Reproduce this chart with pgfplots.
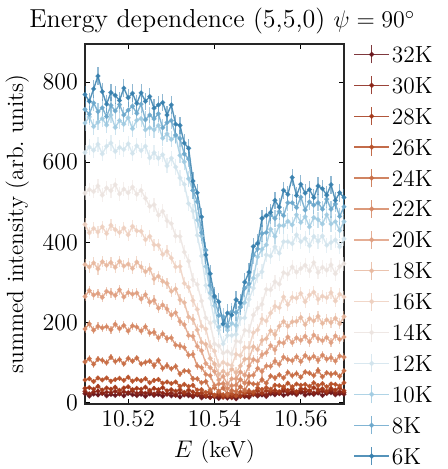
\documentclass[border=0pt]{standalone}
\usepackage{pgfplots}
\pgfplotsset{compat=1.18}
\usepackage{pgfplotstable}
\definecolor{c32}{RGB}{105,22,28}
\definecolor{c30}{RGB}{138,35,22}
\definecolor{c28}{RGB}{163,56,25}
\definecolor{c26}{RGB}{184,82,42}
\definecolor{c24}{RGB}{200,110,70}
\definecolor{c22}{RGB}{214,136,100}
\definecolor{c20}{RGB}{224,160,130}
\definecolor{c18}{RGB}{232,185,160}
\definecolor{c16}{RGB}{238,208,192}
\definecolor{c14}{RGB}{236,228,224}
\definecolor{c12}{RGB}{210,228,237}
\definecolor{c10}{RGB}{162,204,226}
\definecolor{c8}{RGB}{108,168,204}
\definecolor{c6}{RGB}{55,128,174}
\pgfplotstableread{
E s32 s30 s28 s26 s24 s22 s20 s18 s16 s14 s12 s10 s8 s6
10.510 22.8 28.4 36 57 102 184 265 345 445 523 624 698 732 769
10.511 16.8 22.4 38 60 110 197 280 339 424 532 638 713 720 752
10.512 21.6 27.2 34 53 96 181 269 349 435 527 630 689 748 783
10.513 19.6 29.2 41 62 109 191 273 334 426 541 645 700 726 815
10.514 23.6 24.0 32 57 106 187 263 352 439 518 621 709 736 776
10.515 17.6 26.4 37 62 100 190 278 343 422 536 640 693 714 745
10.516 20.8 25.2 34 54 114 182 274 350 443 529 648 718 742 774
10.517 18.4 28.8 39 58 103 196 268 338 432 544 627 687 728 767
10.518 22.0 22.8 31 61 108 185 282 353 425 521 637 704 744 754
10.519 17.2 27.6 37 56 97 193 264 341 436 533 632 695 718 785
10.520 23.2 25.6 40 64 111 179 275 346 419 524 646 711 730 761
10.521 20.0 29.6 33 54 104 192 271 335 440 538 622 684 740 772
10.522 18.0 23.6 36 59 112 189 274 351 429 520 641 705 722 747
10.523 21.0 26.5 34 55 97 179 259 339 428 530 629 709 745 773
10.524 16.1 23.9 39 60 101 190 270 327 407 510 640 681 706 752
10.525 21.8 27.1 31 50 104 174 251 334 415 490 611 686 718 764
10.526 18.5 22.1 36 56 93 176 256 309 394 494 624 681 708 735
10.527 20.8 27.9 33 58 106 162 236 316 393 468 610 692 721 743
10.528 16.6 24.4 38 49 86 172 244 303 370 478 619 660 686 749
10.529 21.5 22.0 30 52 93 160 234 298 378 454 591 671 699 718
10.530 17.3 24.8 33 48 85 162 219 278 361 447 610 657 704 743
10.531 18.6 19.5 29 52 91 144 225 284 339 416 588 665 668 695
10.532 14.6 25.0 33 41 72 142 203 257 340 415 561 617 659 692
10.533 19.4 21.1 26 46 80 138 195 250 298 376 545 601 621 648
10.534 17.7 22.8 32 41 79 119 168 214 288 353 497 559 608 635
10.535 14.8 17.9 27 44 60 121 166 208 255 307 478 529 530 553
10.536 19.4 22.2 23 32 60 92 141 182 233 295 418 456 502 524
10.537 12.4 17.2 25 33 50 88 130 151 191 254 366 416 424 464
10.538 15.8 17.9 18 26 53 71 98 146 184 212 293 340 381 369
10.539 13.7 13.5 24 29 32 68 88 111 141 199 261 274 293 322
10.540 14.4 17.9 18 19 38 43 78 97 129 147 203 242 262 266
10.541 10.8 16.1 21 26 29 47 57 71 93 142 181 189 218 252
10.542 16.2 13.4 15 20 37 48 66 79 101 124 147 196 215 197
10.543 11.8 18.6 22 17 22 35 47 71 96 128 168 181 191 224
10.544 15.3 12.6 17 23 31 43 60 84 93 122 168 198 227 219
10.545 10.1 17.2 20 17 28 44 60 75 121 154 171 193 225 257
10.546 16.0 16.4 16 27 40 58 77 92 118 152 211 238 239 249
10.547 15.5 18.6 24 25 31 49 69 109 138 181 212 250 286 301
10.548 13.9 16.4 24 30 50 67 92 110 138 179 258 289 297 326
10.549 20.4 23.2 22 27 47 69 108 140 175 219 286 311 368 390
10.550 16.9 20.0 30 37 46 86 104 133 182 236 318 364 384 398
10.551 19.7 24.3 24 33 58 78 120 156 209 246 327 383 422 460
10.552 16.0 19.7 30 38 49 92 125 160 204 283 369 394 425 467
10.553 22.2 25.7 29 34 67 91 143 180 224 282 366 433 468 475
10.554 20.0 25.2 31 44 62 104 132 170 241 302 389 415 460 505
10.555 23.6 23.4 28 43 70 96 151 191 237 296 373 442 477 488
10.556 18.8 29.5 36 40 62 114 149 203 264 325 402 442 467 530
10.557 21.5 25.5 31 49 76 108 164 191 245 321 402 453 499 520
10.558 23.7 27.8 35 40 68 105 150 202 263 339 397 444 499 562
10.559 20.4 23.8 28 47 73 115 162 203 261 326 419 469 487 517
10.560 26.0 29.4 35 44 64 103 156 213 273 335 402 450 513 545
10.561 19.2 26.6 34 46 77 118 166 195 252 343 410 464 481 523
10.562 22.8 29.8 30 41 74 110 152 210 269 329 392 439 501 532
10.563 20.8 24.6 38 50 68 116 169 204 276 350 415 462 493 512
10.564 24.4 27.0 32 43 81 106 160 216 258 325 403 457 499 541
10.565 18.4 29.0 35 48 65 119 155 198 266 338 416 446 483 534
10.566 23.2 25.4 29 40 75 109 163 207 262 331 393 469 508 518
10.567 25.2 31.0 36 47 71 113 150 200 275 344 400 446 483 544
10.568 20.0 24.2 32 46 74 104 167 211 254 322 406 452 496 505
10.569 22.4 27.8 37 42 66 117 158 197 271 340 389 430 465 524
10.570 21.2 25.8 30 50 80 114 164 215 264 347 409 452 489 512
}\data
\newcommand{\fs}{\fontsize{11.7}{14}\selectfont}
\newcommand{\tplot}[4]{%
  \addplot[color=#1, mark=*, mark size=0.85pt, line width=0.7pt, opacity=0.85,
    error bars/.cd, y dir=both, y fixed=#3, error mark=none,
    error bar style={line width=0.6pt, opacity=0.55}]
    table[x=E, y=#2] {\data};
  \addlegendentry{#4}}
\begin{document}
\begin{tikzpicture}
\path[use as bounding box] (-42.5pt,-32.5pt) rectangle (181pt,202pt);
\begin{axis}[
  scale only axis, width=129.5pt, height=180pt,
  xmin=10.51, xmax=10.57, ymin=-3, ymax=895,
  xtick={10.52,10.54,10.56}, ytick={0,200,400,600,800},
  scaled x ticks=false,
  xticklabel style={/pgf/number format/.cd, fixed, fixed zerofill, precision=2},
  yticklabel style={/pgf/number format/.cd, fixed, precision=0},
  tick align=inside, major tick length=2.5pt,
  tick style={line width=0.5pt, black},
  axis line style={line width=0.6pt, black!85},
  ticklabel style={font=\fs},
  label style={font=\fs},
  xlabel={$E$ (keV)},
  ylabel={summed intensity (arb.\ units)},
  title={Energy dependence (5,5,0) $\psi = 90^\circ$},
  title style={font=\fontsize{13}{15}\selectfont, at={(0.53,1)}, anchor=base, yshift=2pt},
  legend style={at={(1.035,1.0)}, anchor=north west, draw=none, fill=none,
    font=\fs, inner sep=0pt, row sep=5.45pt,
    nodes={inner sep=1pt, text height=8pt, text depth=0pt}},
  legend cell align=left,
  legend image code/.code={%
    \draw[#1, mark=none] (0pt,0pt) -- (17.5pt,0pt);
    \draw[#1, mark=none] (8.75pt,-4.5pt) -- (8.75pt,4.5pt);
    \fill[#1] (8.75pt,0pt) circle (0.9pt);},
]
\tplot{c32}{s32}{4}{32K}
\tplot{c30}{s30}{4}{30K}
\tplot{c28}{s28}{5}{28K}
\tplot{c26}{s26}{6}{26K}
\tplot{c24}{s24}{8}{24K}
\tplot{c22}{s22}{10}{22K}
\tplot{c20}{s20}{12}{20K}
\tplot{c18}{s18}{14}{18K}
\tplot{c16}{s16}{15}{16K}
\tplot{c14}{s14}{17}{14K}
\tplot{c12}{s12}{19}{12K}
\tplot{c10}{s10}{20}{10K}
\tplot{c8}{s8}{21}{8K}
\tplot{c6}{s6}{22}{6K}
\end{axis}
\end{tikzpicture}
\end{document}
